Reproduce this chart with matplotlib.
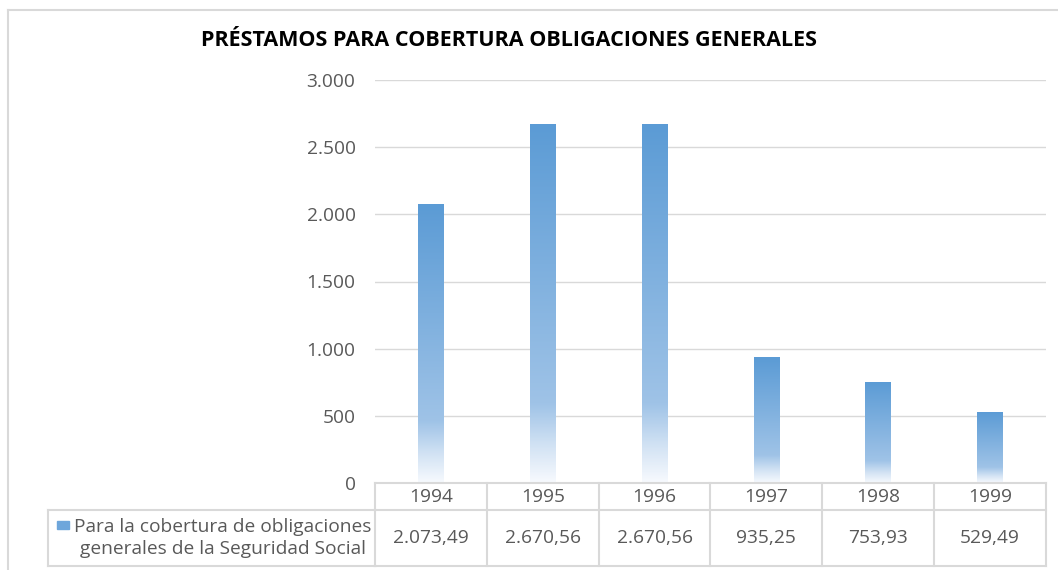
"""Prestamos para cobertura de obligaciones generales (1994-1999)."""
import matplotlib
matplotlib.use("Agg")
import numpy as np
import matplotlib.pyplot as plt
from matplotlib.colors import LinearSegmentedColormap
from matplotlib.lines import Line2D
from matplotlib.patches import Rectangle
import matplotlib.transforms as mtrans

# Data
years = ["1994", "1995", "1996", "1997", "1998", "1999"]
values = [2073.49, 2670.56, 2670.56, 935.25, 753.93, 529.49]
value_labels = ["2.073,49", "2.670,56", "2.670,56", "935,25", "753,93", "529,49"]
yticks = [0, 500, 1000, 1500, 2000, 2500, 3000]
ytick_labels = ["0", "500", "1.000", "1.500", "2.000", "2.500", "3.000"]
series_label = "Para la cobertura de obligaciones\ngenerales de la Seguridad Social"
title = "PRÉSTAMOS PARA COBERTURA OBLIGACIONES GENERALES"

plt.rcParams['font.family'] = ['Open Sans', 'DejaVu Sans']
GRAY = "#595959"
LINE = "#D9D9D9"
FS = 13.8
W, H = 1058, 570

fig = plt.figure(figsize=(W / 100, H / 100), dpi=100)
ax = fig.add_axes([375 / W, 1 - 483 / H, (1046 - 375) / W, (483 - 80) / H])

# gradient like Excel: solid blue at top, fading to white near bottom
cmap = LinearSegmentedColormap.from_list(
    "fade", [(0.0, "#F7FAFE"), (0.1, "#D3E3F4"), (0.22, "#9FC3E7"), (1.0, "#5B9BD5")])
grad = np.linspace(0, 1, 256).reshape(-1, 1)

x = np.arange(len(years))
bw = 0.23
bars = ax.bar(x, values, width=bw, color="none", edgecolor="none", zorder=2)
for b in bars:
    im = ax.imshow(grad, cmap=cmap, origin="lower", aspect="auto",
                   extent=[b.get_x(), b.get_x() + b.get_width(), 0, b.get_height()],
                   zorder=2)
    im.set_clip_path(b)

ax.set_xlim(-0.5, len(years) - 0.5)
ax.set_ylim(0, 3000)
ax.set_yticks(yticks)
ax.set_yticklabels(ytick_labels)
ax.set_xticks([])
ax.tick_params(axis="y", length=0, pad=14, labelsize=FS, labelcolor=GRAY)
ax.grid(axis="y", color=LINE, lw=1, zorder=0)
for s in ax.spines.values():
    s.set_visible(False)

fig.text(201 / W, 1 - 40 / H, title, fontsize=15.5, fontweight="bold",
         color="black", va="center", ha="left")

# data table below the plot
tr = mtrans.blended_transform_factory(ax.transData, fig.transFigure)
y_top, y_mid, y_bot = 1 - 483 / H, 1 - 510 / H, 1 - 566 / H
edges = np.arange(len(years) + 1) - 0.5
for e in edges:
    ax.add_line(Line2D([e, e], [y_bot, y_top], transform=tr, color=LINE,
                       lw=1.5, clip_on=False))
for yy in (y_top, y_mid, y_bot):
    ax.add_line(Line2D([edges[0], edges[-1]], [yy, yy], transform=tr, color=LINE,
                       lw=1.5, clip_on=False))
for xi, yr, vl in zip(x, years, value_labels):
    ax.text(xi, 1 - 497 / H, yr, transform=tr, ha="center", va="center",
            fontsize=FS, color=GRAY)
    ax.text(xi, 1 - 538 / H, vl, transform=tr, ha="center", va="center",
            fontsize=FS, color=GRAY)

# label cell
fig.add_artist(Line2D([48 / W, 375 / W], [y_mid, y_mid], color=LINE, lw=1.5))
fig.add_artist(Line2D([48 / W, 375 / W], [y_bot, y_bot], color=LINE, lw=1.5))
fig.add_artist(Line2D([48 / W, 48 / W], [y_bot, y_mid], color=LINE, lw=1.5))
fig.add_artist(Rectangle((57 / W, 1 - 529 / H), 12 / W, 8 / H, color="#6EA6DB"))
fig.text(223 / W, 1 - 538 / H, series_label, ha="center", va="center",
         fontsize=FS, color=GRAY, linespacing=1.25, multialignment="center")

# chart area border
fig.add_artist(Line2D([8 / W, 8 / W], [0, 1 - 10 / H], color=LINE, lw=1.5))
fig.add_artist(Line2D([8 / W, 1], [1 - 10 / H, 1 - 10 / H], color=LINE, lw=1.5))

fig.savefig("out.png", dpi=100)
